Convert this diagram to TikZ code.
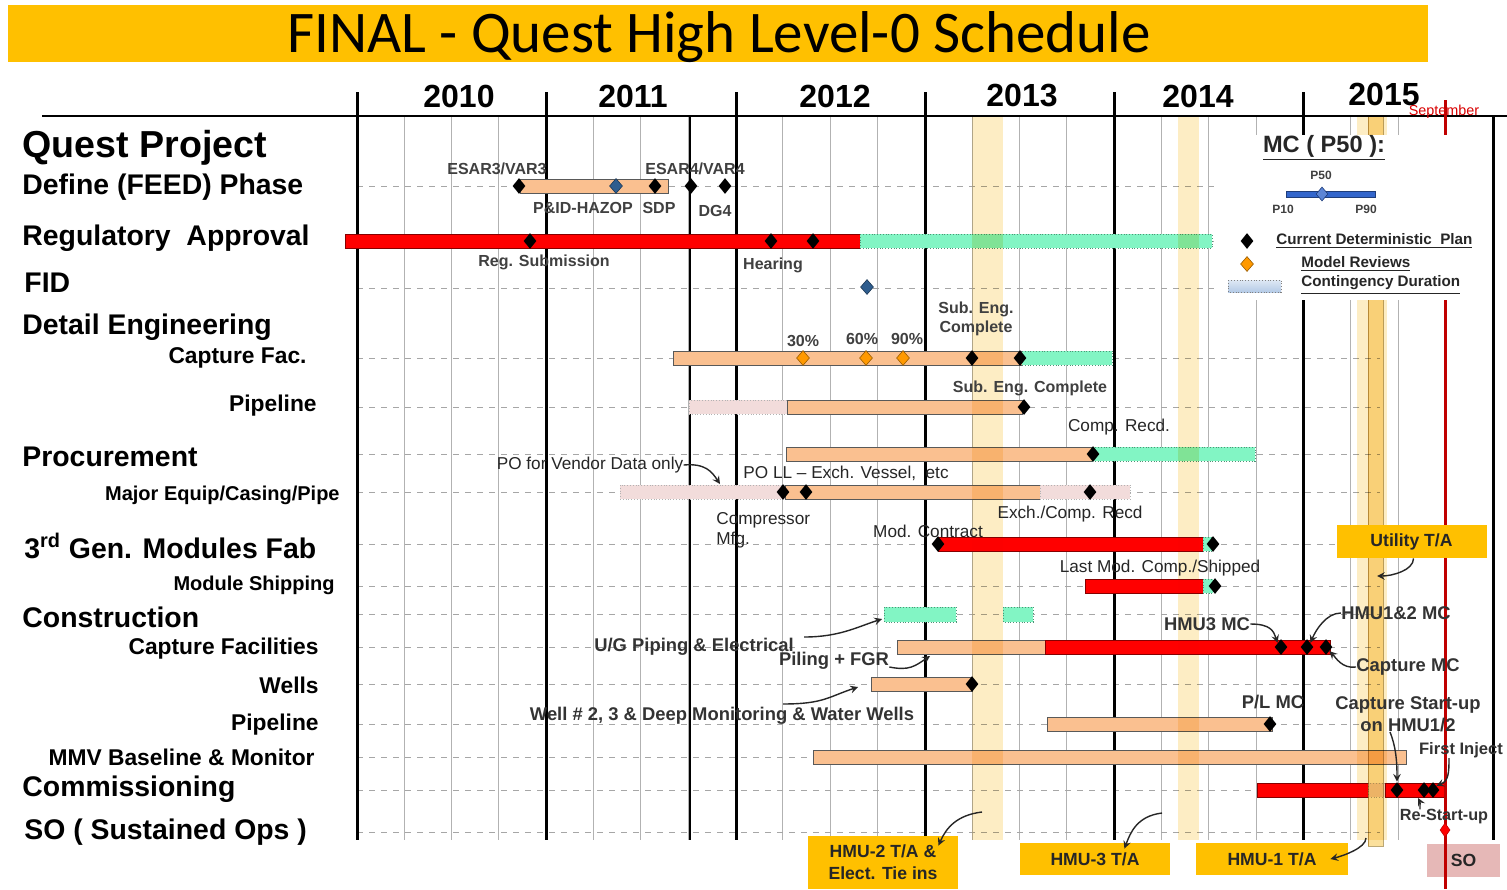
\documentclass[tikz,border=0pt]{standalone}
\usepackage{fontspec}
\setmainfont{Liberation Sans}
\newfontfamily\titlefont{Carlito}
\usetikzlibrary{arrows.meta, positioning, shapes.geometric, calc}
\usepackage{xcolor}

\definecolor{gold}{RGB}{255,192,0}
\definecolor{peach}{RGB}{250,192,144}
\definecolor{mint}{RGB}{130,245,196}
\definecolor{rose}{RGB}{242,220,219}
\definecolor{band}{RGB}{253,237,196}
\definecolor{bandcore}{RGB}{251,224,156}
\definecolor{ink}{RGB}{64,64,64}
\definecolor{steel}{RGB}{47,93,142}
\definecolor{amber}{RGB}{255,153,0}
\definecolor{sept}{RGB}{192,0,0}
\definecolor{sopink}{RGB}{230,184,183}
\definecolor{mcblue}{RGB}{51,102,204}
\definecolor{conttop}{RGB}{222,232,244}
\definecolor{contbot}{RGB}{180,202,230}

\begin{document}
\begin{tikzpicture}[
    x=0.5pt, y=-0.5pt,
    every node/.style={inner sep=0pt},
    secao/.style={anchor=west, font=\fontsize{14.2}{16}\selectfont\bfseries},
    subsecao/.style={anchor=east, font=\fontsize{11.4}{13}\selectfont\bfseries},
    subsecaop/.style={anchor=east, font=\fontsize{10}{12}\selectfont\bfseries},
    ano/.style={font=\fontsize{16}{18}\selectfont\bfseries},
    rotulo/.style={text=ink, font=\fontsize{8}{9.6}\selectfont\bfseries, align=center},
    rotulog/.style={text=black!80, font=\fontsize{9.2}{11}\selectfont\bfseries, align=center},
    nota/.style={text=black!85, font=\fontsize{8.6}{10}\selectfont},
    legenda/.style={anchor=west, text=black!85, font=\fontsize{7.6}{9}\selectfont\bfseries},
    caixa/.style={fill=gold, text=black!85, align=center, font=\fontsize{8.8}{11}\selectfont\bfseries},
    bar/.style={fill=peach, draw=black!65, line width=0.5pt},
    redbar/.style={fill=red, draw=sept!70!black, line width=0.5pt},
    greenbar/.style={fill=mint, draw=mint!60!black, densely dotted, line width=0.4pt},
    rosebar/.style={fill=rose, draw=black!30, densely dotted, line width=0.4pt},
    milestone/.style={diamond, fill=black, minimum width=6.5pt, minimum height=8pt},
    review/.style={diamond, fill=amber, draw=amber!60!black, line width=0.3pt, minimum width=6.5pt, minimum height=7.5pt},
    azul/.style={diamond, fill=steel, draw=steel!60!black, line width=0.3pt, minimum width=6.5pt, minimum height=7.5pt},
    faixa/.style={fill=band},
    seta/.style={->, >=stealth, line width=0.7pt, black!85}
]

\useasboundingbox (0,0) rectangle (1507,889);
\fill[white] (0,0) rectangle (1507,889);

% ============================================================
% TITULO
% ============================================================

\node[
    fill=gold,
    minimum width=710pt,
    minimum height=28.5pt
] (banner) at (718,33.5) {};

\node[
    font=\titlefont\fontsize{29.5}{31}\selectfont
] (titulo) at (719,37)
{FINAL - Quest High Level-0 Schedule};

% ============================================================
% GRADE
% ============================================================

\foreach \q in {0,...,5}
    \foreach \k in {1,2,3}
        \draw[gray!60, line width=0.5pt] ({357+\q*189.3+\k*47.33},116) -- ++(0,724);

\draw[black, line width=0.8pt] (690,116) -- (690,840);

\foreach \y in {186,241,288,358,407,454,492,544,586,614,647,684,724,757,790,832}
    \draw[dashed, gray!70, line width=0.5pt] (357,\y) -- (1380,\y);

\foreach \a in {357,546,736,925,1114,1303}
    \draw[line width=1.5pt] (\a,92) -- (\a,840);

\draw[line width=0.9pt] (42,116) -- (1507,116);

\node[ano] (a2010) at (459,96) {2010};
\node[ano] (a2011) at (633,96) {2011};
\node[ano] (a2012) at (835,96) {2012};
\node[ano] (a2013) at (1022,96) {2013};
\node[ano] (a2014) at (1198,96) {2014};
\node[ano] (a2015) at (1384,94) {2015};

% ============================================================
% ATIVIDADES
% ============================================================

\node[secao, font=\fontsize{18.8}{21}\selectfont\bfseries] (quest) at (22,148) {Quest Project};
\node[secao] (define) at (22,187) {Define (FEED) Phase};
\node[secao] (regul) at (22,238) {Regulatory\ \ Approval};
\node[secao] (fid) at (24,283) {FID};
\node[secao] (deteng) at (22,327) {Detail Engineering};
\node[subsecao] (capfac) at (307,358) {Capture Fac.};
\node[subsecao] (pipe1) at (317,406) {Pipeline};
\node[secao] (procur) at (22,457) {Procurement};
\node[subsecaop] (major) at (340,495) {Major Equip/Casing/Pipe};
\node[secao] (gen3) at (24,546) {3\textsuperscript{rd} Gen. Modules Fab};
\node[subsecaop] (modship) at (335,585) {Module Shipping};
\node[secao] (constr) at (22,617) {Construction};
\node[subsecao] (capfacil) at (319,649) {Capture Facilities};
\node[subsecao] (wells) at (319,685) {Wells};
\node[subsecao] (pipe2) at (319,725) {Pipeline};
\node[subsecao] (mmv) at (315,757) {MMV Baseline \& Monitor};
\node[secao] (comm) at (22,789) {Commissioning};
\node[secao] (so) at (24,832) {SO ( Sustained Ops )};

% ============================================================
% BARRAS
% ============================================================

\draw[bar] (520,179) rectangle (668,193);

\draw[redbar] (345,234) rectangle (860,248);
\draw[greenbar] (860,234) rectangle (1212,248);

\draw[bar] (673,351) rectangle (1022,365);
\draw[greenbar] (1022,351) rectangle (1112,365);

\draw[rosebar] (689,400) rectangle (787,414);
\draw[bar] (787,400) rectangle (1022,414);

\draw[bar] (786,447) rectangle (1092,461);
\draw[greenbar] (1092,447) rectangle (1255,461);

\draw[rosebar] (620,485) rectangle (785,499);
\draw[bar] (785,485) rectangle (1040,499);
\draw[rosebar] (1040,485) rectangle (1130,499);

\draw[redbar] (938,537) rectangle (1203,551);
\draw[greenbar] (1203,537) rectangle (1213,551);

\draw[redbar] (1085,579) rectangle (1203,593);
\draw[greenbar] (1203,579) rectangle (1213,593);

\draw[greenbar] (884,607) rectangle (956,622);
\draw[greenbar] (1003,607) rectangle (1033,622);

\draw[bar] (897,640) rectangle (1045,654);
\draw[redbar] (1045,640) rectangle (1330,654);

\draw[bar] (871,677) rectangle (972,691);

\draw[bar] (1047,717) rectangle (1272,731);

\draw[bar] (813,750) rectangle (1406,764);

\draw[redbar] (1257,783) rectangle (1368,797);
\draw[rosebar] (1368,783) rectangle (1385,797);
\draw[redbar] (1385,783) rectangle (1445,797);

% faixas de parada
\begin{scope}[blend mode=multiply]
\fill[faixa] (972,116) rectangle (1003,840);
\fill[faixa] (1178,116) rectangle (1199,840);
\fill[faixa] (1357,116) rectangle (1387,840);
\draw[fill=bandcore, draw=bandcore!75!black, line width=0.4pt] (1368,116) rectangle (1383,846);
\end{scope}

% linha de setembro
\draw[sept, line width=1.5pt] (1445,100) -- (1445,889);

% ============================================================
% LEGENDA
% ============================================================

\fill[white] (1214,135) rectangle (1488,300);
\draw[line width=1.5pt] (1493,116) -- (1493,840);

\node[font=\fontsize{11.8}{13}\selectfont\bfseries, text=black!85] (mclab) at (1324,148) {\underline{MC ( P50 ):}};
\node[rotulo, font=\fontsize{6}{7}\selectfont\bfseries] (p50) at (1321,175) {P50};
\draw[fill=mcblue, draw=mcblue!60!black, line width=0.4pt] (1286,191) rectangle (1375,197);
\node[diamond, fill=mcblue!80!white, draw=mcblue!60!black, line width=0.3pt, minimum width=6pt, minimum height=7pt] (p50d) at (1322,194) {};
\node[rotulo, font=\fontsize{6}{7}\selectfont\bfseries] (p10) at (1283,209) {P10};
\node[rotulo, font=\fontsize{6}{7}\selectfont\bfseries] (p90) at (1366,209) {P90};

\node[milestone] (legplan) at (1247,241) {};
\node[legenda] (legplant) at (1276,241) {\underline{Current Deterministic\ \ Plan}};
\node[review] (legrev) at (1247,264) {};
\node[legenda] (legrevt) at (1301,264) {\underline{Model Reviews}};
\draw[densely dotted, draw=gray, top color=conttop, bottom color=contbot] (1228,280) rectangle (1281,292);
\node[legenda] (legcont) at (1301,285) {\underline{Contingency Duration}};

% ============================================================
% MARCOS
% ============================================================

\node[milestone] (esar3) at (519,186) {};
\node[azul] (hazop) at (616,186) {};
\node[milestone] (sdp) at (655,186) {};
\node[milestone] (esar4) at (691,186) {};
\node[milestone] (dg4) at (725,186) {};

\node[milestone] (regsub) at (530,241) {};
\node[milestone] (hear1) at (771,241) {};
\node[milestone] (hear2) at (813,241) {};

\node[azul] (fidm) at (867,287) {};

\node[review] (r30) at (803,358) {};
\node[review] (r60) at (866,358) {};
\node[review] (r90) at (903,358) {};
\node[milestone] (subeng1) at (972,358) {};
\node[milestone] (subeng2) at (1020,358) {};

\node[milestone] (subeng3) at (1024,407) {};

\node[milestone] (comprecd) at (1093,454) {};

\node[milestone] (pocomp) at (783,492) {};
\node[milestone] (poll) at (806,492) {};
\node[milestone] (exrecd) at (1090,492) {};

\node[milestone] (modcon) at (938,544) {};
\node[milestone] (modend) at (1213,544) {};

\node[milestone] (lastmod) at (1215,586) {};

\node[milestone] (hmu3mc) at (1281,647) {};
\node[milestone] (hmu12mc) at (1307,647) {};
\node[milestone] (capmc) at (1326,647) {};

\node[milestone] (wellsm) at (972,684) {};

\node[milestone] (plmc) at (1270,724) {};

\node[milestone] (csu) at (1397,790) {};
\node[milestone] (rsu) at (1424,790) {};
\node[milestone] (fij) at (1433,790) {};

% ============================================================
% ROTULOS
% ============================================================

\node[rotulo] (esar3l) at (497,169) {ESAR3/VAR3};
\node[rotulo] (esar4l) at (695,169) {ESAR4/VAR4};
\node[rotulo] (hazopl) at (583,208) {P\&ID-HAZOP};
\node[rotulo] (sdpl) at (659,208) {SDP};
\node[rotulo] (dg4l) at (715,211) {DG4};

\node[rotulo] (regsubl) at (544,262) {Reg. Submission};
\node[rotulo] (hearl) at (773,265) {Hearing};

\node[rotulo] (r30l) at (803,341) {30\%};
\node[rotulo] (r60l) at (862,339) {60\%};
\node[rotulo] (r90l) at (907,339) {90\%};
\node[rotulo] (subeng1l) at (976,319) {Sub. Eng.\\Complete};
\node[rotulo] (subeng3l) at (1030,388) {Sub. Eng. Complete};

\node[nota] (comprecdl) at (1119,427) {Comp. Recd.};
\node[nota] (povd) at (590,465) {PO for Vendor Data only};
\node[nota] (polll) at (846,473) {PO LL – Exch. Vessel,\ \ etc};
\node[nota, anchor=north west, align=left] (compmfg) at (716,512) {Compressor\\Mfg.};
\node[nota] (exrecdl) at (1070,514) {Exch./Comp. Recd};
\node[nota] (modconl) at (928,531) {Mod. Contract};
\node[nota] (lastmodl) at (1160,568) {Last Mod. Comp./Shipped};

\node[rotulog] (ugpip) at (694,647) {U/G Piping \& Electrical};
\node[rotulog] (piling) at (834,661) {Piling + FGR};
\node[rotulog] (wellsl) at (722,716) {Well \# 2, 3 \& Deep Monitoring \& Water Wells};
\node[rotulog] (hmu3l) at (1207,624) {HMU3 MC};
\node[rotulog] (hmu12l) at (1396,613) {HMU1\&2 MC};
\node[rotulog] (capmcl) at (1408,667) {Capture MC};
\node[rotulog] (plmcl) at (1273,702) {P/L MC};
\node[rotulog] (csul) at (1408,714) {Capture Start-up\\on HMU1/2};
\node[rotulog, font=\fontsize{8.3}{10}\selectfont\bfseries] (fijl) at (1461,750) {First Inject};
\node[rotulog, font=\fontsize{8.1}{10}\selectfont\bfseries] (rsul) at (1444,817) {Re-Start-up};

\node[text=red!85!black, font=\fontsize{7.2}{9}\selectfont] (septl) at (1444,112) {September};

% ============================================================
% CAIXAS
% ============================================================

\node[caixa, minimum width=75pt, minimum height=26.5pt] (hmu2box) at (883,862.5) {HMU-2 T/A \&\\Elect. Tie ins};
\node[caixa, minimum width=75pt, minimum height=16pt] (hmu3box) at (1095,859) {HMU-3 T/A};
\node[caixa, minimum width=76pt, minimum height=16pt] (hmu1box) at (1272,859) {HMU-1 T/A};
\node[caixa, minimum width=75pt, minimum height=16.5pt] (utilbox) at (1411.5,541.5) {Utility T/A};
\node[caixa, fill=sopink, minimum width=36.5pt, minimum height=16.5pt] (sobox) at (1463.5,860) {SO};

\draw[sept, line width=1.5pt] (sobox.north -| 1445,0) -- (1445,889);
\node[diamond, fill=red, draw=sept, line width=0.3pt, minimum width=5pt, minimum height=7pt] (som) at (1445,830) {};

% ============================================================
% SETAS
% ============================================================

\coordinate (povdalvo) at (720,484);
\coordinate (ugalvo) at (882,619);
\coordinate (pilalvo) at (930,656);
\coordinate (wellalvo) at (858,687);
\coordinate (utilalvo) at (1377,576);
\coordinate (rsualvo) at (1418,798);
\coordinate (t2) at (982,812);
\coordinate (t3) at (1162,813);
\coordinate (t1) at (1366,838);

\draw[seta] (povd.east) .. controls +(22,-2) and +(-8,-12) .. (povdalvo);
\draw[seta] ([xshift=5pt,yshift=5pt]ugpip.east) .. controls +(35,0) and +(-25,8) .. (ugalvo);
\draw[seta] ([yshift=-3pt]piling.east) .. controls +(20,4) and +(-15,10) .. (pilalvo);
\draw[seta] ($(wellsl.north)+(61,-3)$) .. controls +(40,0) and +(-30,10) .. (wellalvo);
\draw[seta] (hmu3l.east) .. controls +(20,0) and +(-4,-12) .. (hmu3mc.north west);
\draw[seta] (hmu12l.west) .. controls +(-15,0) and +(5,-12) .. (hmu12mc.north east);
\draw[seta] (capmcl.west) .. controls +(-14,2) and +(6,6) .. (capmc.south east);
\draw[seta] ([xshift=1pt]utilbox.south) .. controls +(0,12) and +(15,0) .. (utilalvo);
\draw[seta] ([xshift=-9pt]csul.south) .. controls +(6,15) and +(0,-20) .. (csu.north);
\draw[seta] ([xshift=-6pt]fijl.south) .. controls +(0,15) and +(12,-5) .. (fij.north east);
\draw[seta] ([xshift=-12pt]rsul.north) .. controls +(0,-4) and +(2,4) .. (rsualvo);
\draw[seta] (t2) .. controls +(-25,3) and +(8,-18) .. ([xshift=-10pt,yshift=-5pt]hmu2box.north east);
\draw[seta] (t3) .. controls +(-25,3) and +(6,-16) .. ([xshift=-23pt,yshift=-3pt]hmu3box.north east);
\draw[seta] (t1) .. controls +(0,10) and +(12,-3) .. ([xshift=-9pt]hmu1box.east);

\end{tikzpicture}
\end{document}
